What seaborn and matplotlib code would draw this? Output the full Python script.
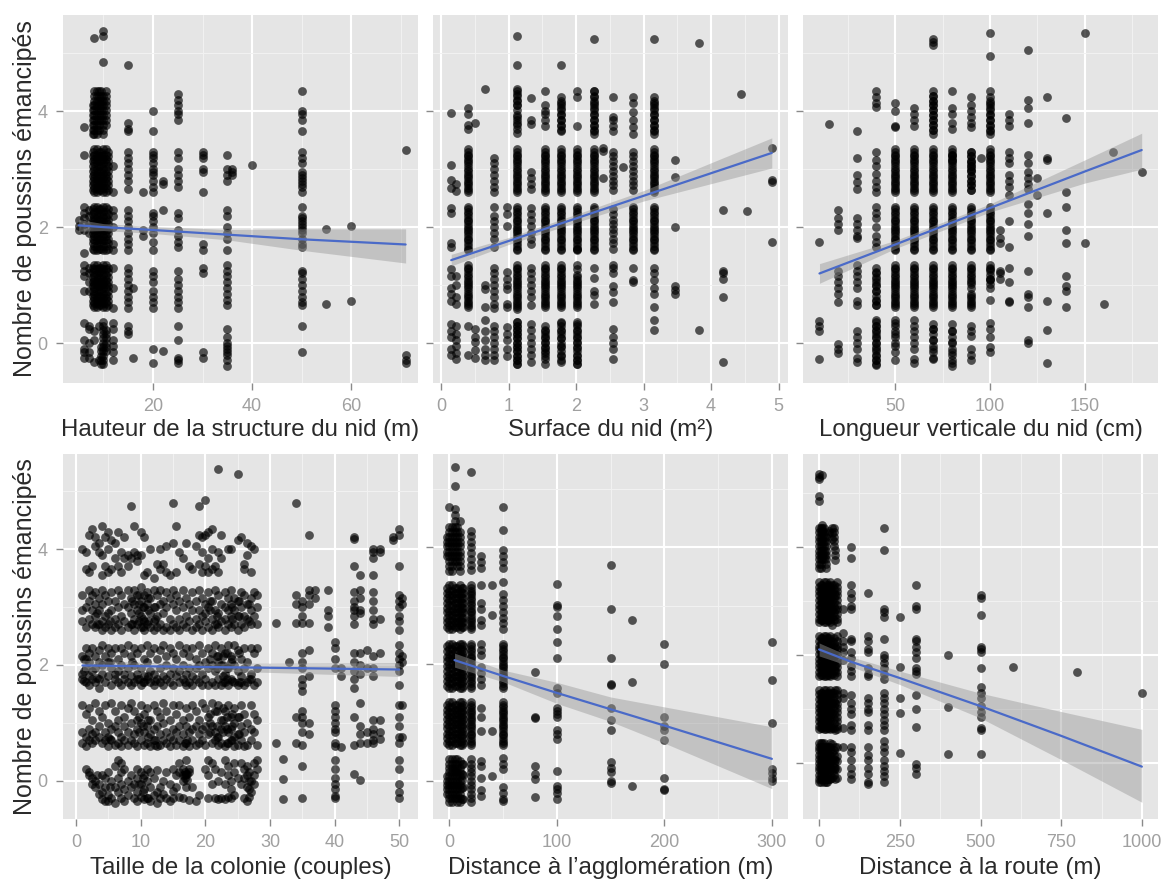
import matplotlib
matplotlib.use("Agg")
import matplotlib.pyplot as plt
import pandas as pd
import seaborn as sns

# valeurs : y = nombre de poussins (avec jitter), une liste par colonne de points
# zones saturees (noir plein), on ne distingue plus les points individuels
dense_a = [0.62, 0.69, 0.78, 0.85, 0.95, 1.02, 1.09, 1.18, 1.27, 1.35,
           1.6, 1.68, 1.77, 1.84, 1.93, 2.01, 2.1, 2.17, 2.26, 2.35,
           2.6, 2.67, 2.76, 2.85, 2.92, 3.01, 3.1, 3.18, 3.25, 3.35]
dense_b = [0.65, 0.73, 0.81, 0.9, 0.98, 1.06, 1.14, 1.22, 1.3,
           1.63, 1.72, 1.8, 1.89, 1.97, 2.05, 2.13, 2.22, 2.31,
           2.64, 2.72, 2.8, 2.89, 2.97, 3.05, 3.14, 3.22, 3.3]
top_a = [3.6, 3.68, 3.77, 3.85, 3.93, 4.02, 4.1, 4.18, 4.27, 4.35]
zero_a = [-0.36, -0.29, -0.22, -0.14, -0.07, 0.0, 0.08, 0.15, 0.23, 0.3, 0.37]

# hauteur de la structure du nid
h_x = [5, 6, 7, 8, 9, 10, 12, 15, 16, 18, 20, 22, 25, 30, 35, 36, 40, 50, 55, 60, 71, 7.8, 8.6, 9.5, 10.6, 11]
h_y = [
    [2.12, 2.02, 1.95],
    [3.73, 3.25, 2.35, 2.25, 2.15, 2.05, 1.95, 1.55, 1.35, 1.25, 1.15, 0.9, 0.35, 0.05, -0.1, -0.15, -0.25],
    [2.3, 2.2, 2.05, 1.9, 1.3, 1.2, 1.05, 0.9, 0.3, 0.25, 0.0, -0.15, -0.25],
    dense_a + top_a + [5.27, 0.2, 0.05, -0.33],
    dense_b + top_a[1:] + [-0.3, 0.3],
    dense_a + top_a[:-1] + zero_a + [5.38, 5.3, 4.85],
    [3.05, 2.6, 2.3, 2.2, 2.0, 1.7, 1.6, 1.3, 0.95, 0.6, 0.35, 0.25, 0.05, -0.05, -0.15, -0.3],
    [4.8, 3.8, 3.7, 3.65, 3.3, 3.2, 3.1, 3.0, 2.9, 2.8, 2.65, 2.3, 2.2, 2.1, 2.0, 1.9, 1.8, 1.7, 1.6,
     1.3, 1.2, 1.1, 1.0, 0.9, 0.8, 0.7, 0.6, 0.3, 0.2, 0.15],
    [0.95, -0.25],
    [2.6, 1.95, 1.85],
    [4.0, 3.65, 3.3, 3.25, 3.2, 3.1, 3.0, 2.95, 2.9, 2.8, 2.7, 2.6, 2.25, 2.2, 2.1, 2.0, 1.9, 1.75, 1.6,
     1.25, 1.15, 1.05, 0.9, 0.8, 0.7, 0.6, -0.1, -0.35],
    [2.8, 2.75, 2.3, -0.13],
    [4.3, 4.2, 4.1, 4.0, 3.95, 3.85, 3.3, 3.2, 3.0, 2.9, 2.8, 2.7, 2.25, 2.15, 1.95, 1.85, 1.75, 1.65,
     1.25, 1.1, 1.0, 0.9, 0.8, 0.7, 0.6, 0.3, 0.05, -0.25, -0.3, -0.35],
    [3.3, 3.25, 3.2, 3.0, 2.95, 2.6, 1.7, 1.6, 1.3, 1.2, -0.15, -0.25],
    [3.25, 3.0, 2.9, 2.8, 2.3, 2.2, 2.0, 1.9, 1.8, 1.6, 1.35, 1.25, 1.15, 1.05, 0.95, 0.85, 0.75, 0.65,
     0.25, 0.1, 0.0, -0.05, -0.1, -0.15, -0.2, -0.3, -0.4],
    [3.0, 2.95, 2.9],
    [3.07],
    [4.35, 4.0, 3.95, 3.85, 3.65, 3.3, 3.2, 3.1, 2.95, 2.9, 2.85, 2.8, 2.75, 2.7, 2.6, 2.35, 2.2, 2.15,
     2.1, 2.05, 2.0, 1.95, 1.9, 1.8, 1.7, 1.65, 1.25, 1.2, 1.1, 1.0, 0.9, 0.8, 0.7, 0.65, 0.3, -0.15],
    [1.97, 0.68],
    [2.02, 0.72],
    [3.33, -0.2, -0.3, -0.35],
    dense_b + top_a[:7],
    dense_a + top_a,
    dense_b + top_a[3:] + zero_a[:5],
    dense_a + top_a[2:] + zero_a[3:9],
    dense_b,
]
h_fit_x = [5, 10, 20, 35, 50, 71]
h_fit = [2.03, 2.0, 1.95, 1.87, 1.79, 1.7]
h_lo = [1.93, 1.94, 1.89, 1.78, 1.6, 1.38]
h_hi = [2.13, 2.06, 2.01, 1.96, 1.97, 1.97]

# surface du nid
s_x = [0.15, 0.22, 0.4, 0.5, 0.65, 0.79, 0.97, 1.13, 1.33, 1.54, 1.78, 2.01, 2.27, 2.4, 2.55, 2.7, 2.84,
       3.15, 3.47, 3.82, 4.17, 4.45, 4.53, 4.9, 1.13, 1.54, 1.78, 2.01, 0.4, 3.15, 2.84, 2.27]
s_y = [
    [3.97, 3.08, 2.82, 2.68, 2.33, 2.25, 1.73, 1.66, 1.27, 1.15, 0.95, 0.85, 0.72, 0.32, 0.2, 0.1, -0.1, -0.2],
    [2.75, 2.62, 1.15, 1.0, 0.8, 0.68, 0.3, 0.15, 0.05, -0.05, -0.17, -0.28],
    [4.05, 3.95, 3.77, 3.7] + dense_a[:10] + dense_a[10:20] + dense_a[20:] + [0.3, -0.2],
    [3.8, 0.25, 0.1, 0.02, -0.12, -0.25],
    [4.38, 1.0, 0.93, 0.62, 0.4, 0.2, 0.05, -0.1, -0.2, -0.3],
    [3.2, 3.1, 3.0, 2.9, 2.8, 2.7, 2.6, 2.35, 2.2, 2.1, 2.0, 1.9, 1.8, 1.65, 1.3, 1.2, 1.1, 1.0, 0.9, 0.8,
     0.68, 0.6, 0.3, 0.2, 0.1, 0.0, -0.1, -0.2, -0.3],
    [2.35, 2.22, 2.02, 1.22, 1.1, 1.0, 0.93, 0.68, 0.62, 0.28, 0.15, 0.05, -0.1, -0.22],
    [5.3, 4.8, 4.38, 4.3, 4.2, 4.1, 3.9, 3.8, 3.7, 3.62] + dense_a + [0.58] + zero_a,
    [4.22, 3.85, 3.78, 2.95, 2.85, 2.75, 2.65, 2.33, 2.22, 2.12, 2.02, 1.9, 1.8, 1.7, 1.3, 1.2, 1.1, 1.0,
     0.9, 0.8, 0.66, 0.33, 0.22, 0.1, 0.0, -0.1, -0.2, -0.32],
    [4.35, 4.1, 4.0, 3.95, 3.85, 3.75] + dense_b + [0.3, 0.2, 0.1, 0.02, -0.08, -0.18, -0.28, -0.36],
    [4.8, 4.25, 4.15, 4.05, 3.95, 3.85, 3.75, 3.65] + dense_a + [0.35, 0.2, 0.08, -0.05, -0.2, -0.32],
    [4.35, 4.25, 3.75] + dense_b[:7] + dense_b[9:] + [1.63, 0.33, 0.2, 0.1, 0.02, -0.08, -0.2, -0.3, -0.36],
    [5.25, 4.35, 4.25, 4.15, 4.05, 3.95, 3.85, 3.75, 3.65] + dense_a[10:] + [1.3, 1.12, 0.9, 0.82, 0.68],
    [3.37, 3.32, 2.85],
    [4.25, 3.9, 3.85, 3.75, 3.65] + dense_b[9:] + [1.35, 1.3, 1.2, 0.98, 0.88, 0.7, 0.25, 0.1, 0.0, -0.1, -0.27],
    [3.03],
    [4.25, 4.15, 3.98, 3.85, 3.72, 3.6] + dense_b[9:] + [1.3, 1.08, 1.05],
    [5.25, 4.25, 4.15, 4.05, 3.95, 3.85, 3.75, 3.65] + dense_a[10:] + [1.3, 1.2, 1.08, 0.95, 0.85, 0.62, 0.4, 0.22],
    [3.15, 2.87, 2.0, 0.98, 0.92, 0.85],
    [5.18, 0.22],
    [2.3, 1.25, 1.2, 1.1, 0.8, -0.33],
    [4.3],
    [2.28],
    [3.37, 2.82, 2.78, 1.75],
    dense_b + top_a[2:] + zero_a,
    dense_a + zero_a[2:9],
    dense_b + top_a[1:8] + zero_a[1:],
    dense_a + zero_a,
    dense_b,
    dense_b[9:] + top_a[:8],
    dense_a[10:20],
    dense_b[9:] + top_a,
]
s_fit_x = [0.15, 1, 2, 3, 4, 4.9]
s_fit = [1.43, 1.76, 2.15, 2.54, 2.93, 3.28]
s_lo = [1.33, 1.7, 2.08, 2.45, 2.75, 3.02]
s_hi = [1.53, 1.82, 2.22, 2.63, 3.11, 3.54]

# longueur verticale du nid
l_x = [10, 15, 20, 30, 40, 50, 60, 70, 80, 90, 95, 100, 105, 110, 120, 125, 130, 140, 150, 160, 165, 180,
       50, 60, 70, 80, 90, 100, 40]
l_y = [
    [1.75, 0.38, 0.3, 0.2, -0.27],
    [3.78],
    [2.3, 2.15, 2.05, 1.95, 1.25, 1.15, 1.05, 0.95, 0.85, 0.7, -0.02, -0.1, -0.17],
    [3.65, 3.2, 2.9, 2.78, 2.65, 2.15, 2.05, 1.95, 1.85, 1.82, 1.35, 1.25, 1.15, 1.05, 0.95, 0.72, 0.66,
     0.2, 0.1, 0.0, -0.1, -0.25, -0.32],
    [4.35, 4.25, 4.15, 4.07, 3.3, 3.15, 3.05, 2.92, 2.8, 2.7, 2.6, 2.35, 2.25, 2.15, 2.0, 1.85, 1.75, 1.65,
     1.3, 1.2, 1.1, 1.0, 0.9, 0.75, 0.65, 0.4, 0.3, 0.2, 0.1, 0.0, -0.1, -0.2, -0.3, -0.38],
    [4.15, 4.0, 3.75, 3.72] + dense_a + [0.4, 0.3, 0.2, 0.1, 0.0, -0.15, -0.3],
    [4.05, 3.95, 3.85, 3.75] + dense_b + [0.4, 0.3, 0.2, 0.1, 0.0, -0.1, -0.27, -0.35],
    [5.25, 5.2, 5.15] + top_a + dense_a + [0.33, 0.25, 0.15, 0.05, -0.05, -0.15, -0.27],
    [4.35, 4.05, 3.95, 3.8, 3.7, 3.25, 3.15] + dense_b + [0.32, 0.2, 0.1, 0.0, -0.1, -0.2, -0.3, -0.4],
    [4.25, 4.1, 4.0, 3.9, 3.8, 3.72, 3.1, 3.0] + dense_b[:3] + dense_b[5:] + [0.3, 0.2, 0.12, -0.1, -0.2, -0.3],
    [3.2],
    [5.35, 4.95, 4.35, 4.25, 4.15, 4.05, 3.95, 3.85, 3.75, 3.65] + dense_a[5:] + [1.3, 1.1, 0.75, 0.35, 0.25, 0.1, -0.07, -0.15],
    [1.95, 1.82, 1.72, 1.25, 1.2, 1.1],
    [3.95, 3.85, 3.75, 3.3, 3.2, 3.1, 2.9, 2.8, 2.7, 2.55, 2.1, 1.65, 1.3, 1.05, 0.72, 0.7],
    [5.05, 4.2, 4.05, 3.8, 3.25, 3.1, 2.95, 2.85, 2.75, 2.65, 2.4, 2.25, 2.05, 1.85, 1.25, 0.85, 0.8, 0.62, 0.05, 0.0],
    [2.85, 2.55],
    [4.25, 3.2, 3.15, 2.25, 0.72, 0.22, -0.35],
    [3.88, 2.6, 2.35, 1.95, 1.72, 1.15, 0.98, 0.9, 0.62],
    [5.35, 1.72],
    [0.68],
    [3.3],
    [2.95],
    dense_b + [0.35, 0.15, -0.05],
    dense_a,
    dense_b + top_a[1:9] + [0.25, 0.05, -0.1, -0.25],
    dense_a + [0.2, 0.02, -0.15, -0.35],
    dense_a[:20] + dense_b[18:],
    dense_b[9:] + top_a[:8] + [0.95, 1.1, 1.25],
    dense_b[:8] + zero_a,
]
l_fit_x = [10, 50, 100, 150, 180]
l_fit = [1.2, 1.7, 2.33, 2.96, 3.33]
l_lo = [1.03, 1.63, 2.26, 2.76, 3.0]
l_hi = [1.37, 1.77, 2.4, 3.16, 3.62]

# taille de la colonie
c_x = [1, 1.5, 2, 2.5, 3, 3.5, 4, 4.5, 5, 5.5, 6, 6.5, 7, 7.5, 8, 8.5, 9, 9.5, 10, 10.5, 11, 11.5, 12, 12.5,
       13, 13.5, 14, 14.5, 15, 15.5, 16, 16.5, 17, 17.5, 18, 18.5, 19, 19.5, 20, 20.5, 21, 21.5, 22, 22.5,
       23, 23.5, 24, 24.5, 25, 25.5, 26, 26.5, 27, 27.5, 28]
c_y = [
    [4.0, 3.2, 2.95, 2.75, 2.15, 1.85, 1.75, 1.3, 0.85, 0.65],
    [3.95, 3.65, 3.0, 2.65, 2.3, 2.1, 1.95, 1.7, 1.15, 0.75, 0.6, 0.2],
    [4.25, 3.6, 3.3, 3.1, 2.8, 2.2, 2.05, 1.8, 1.65, 1.25, 0.9, 0.7, 0.15, 0.1],
    [4.35, 3.7, 3.2, 2.95, 2.7, 2.3, 1.9, 1.75, 1.05, 0.8, 0.65, 0.05, -0.05],
    [4.2, 4.05, 3.25, 3.05, 2.85, 2.65, 2.15, 1.95, 1.7, 1.35, 0.85, 0.7, 0.0, -0.1],
    [4.1, 3.95, 3.15, 2.95, 2.7, 2.25, 2.05, 1.75, 1.6, 1.2, 0.95, 0.75, -0.05, -0.22],
    [4.4, 3.9, 3.55, 3.3, 3.05, 2.75, 2.6, 2.35, 2.0, 1.85, 1.1, 0.65, 0.1, -0.2, -0.32],
    [4.2, 3.7, 3.2, 2.85, 2.65, 2.15, 1.7, 1.3, 0.85, 0.7, 0.05, -0.1, -0.35],
    [4.3, 4.0, 3.6, 3.1, 2.9, 2.7, 2.3, 2.05, 1.8, 1.0, 0.75, 0.6, 0.15, -0.25, -0.35],
    [4.15, 3.65, 3.25, 2.95, 2.6, 2.2, 1.95, 1.65, 1.35, 0.9, 0.7, 0.0, -0.3],
    [4.1, 3.85, 3.1, 2.8, 2.65, 2.3, 1.85, 1.75, 1.2, 0.95, 0.62, 0.25, -0.1, -0.38],
    [4.3, 3.7, 3.3, 3.0, 2.7, 2.1, 1.9, 1.7, 1.05, 0.85, 0.65, 0.35, 0.05, -0.2],
    [3.95, 3.6, 3.2, 2.85, 2.6, 2.3, 2.0, 1.65, 1.3, 0.75, 0.6, 0.3, 0.15, -0.05, -0.3],
    [4.2, 3.85, 3.05, 2.75, 2.2, 1.85, 1.75, 1.1, 0.95, 0.7, 0.2, -0.15, -0.35],
    [3.9, 3.7, 3.3, 3.0, 2.65, 2.35, 1.95, 1.7, 1.25, 0.85, 0.62, 0.0, -0.25],
    [4.75, 3.85, 3.15, 2.9, 2.7, 2.15, 1.8, 1.65, 1.35, 1.0, 0.7, 0.1, -0.1],
    [4.4, 3.95, 3.3, 3.05, 2.8, 2.6, 2.3, 2.0, 1.7, 1.2, 0.8, 0.65, -0.05, -0.3],
    [3.9, 3.8, 3.2, 2.95, 2.7, 2.2, 1.85, 1.75, 1.05, 0.9, 0.6, 0.2, 0.05, -0.2, -0.35],
    [4.3, 3.9, 3.35, 3.1, 2.85, 2.65, 2.3, 1.95, 1.65, 1.3, 1.0, 0.7, 0.15, -0.05, -0.28],
    [4.2, 3.55, 3.2, 3.0, 2.75, 2.6, 2.1, 1.8, 1.7, 1.15, 0.85, 0.62, 0.1, -0.15, -0.32],
    [3.6, 3.25, 3.05, 2.7, 2.35, 2.05, 1.75, 1.25, 0.95, 0.65, 0.2, 0.0, -0.3],
    [4.0, 3.15, 2.9, 2.65, 2.2, 1.9, 1.7, 1.05, 0.8, 0.6, 0.15, -0.1, -0.35],
    [3.5, 3.3, 3.0, 2.75, 2.6, 2.3, 1.85, 1.65, 1.3, 0.9, 0.7, 0.05, -0.25],
    [3.75, 3.2, 2.85, 2.65, 2.1, 1.75, 1.2, 0.95, 0.6, 0.18, -0.2, -0.38],
    [4.0, 3.65, 3.3, 3.05, 2.7, 2.25, 1.95, 1.7, 1.1, 0.8, 0.62, -0.1, -0.3],
    [3.75, 3.1, 2.9, 2.6, 2.35, 1.8, 1.65, 1.35, 1.0, 0.7, 0.0, -0.22],
    [4.05, 3.6, 3.25, 3.0, 2.65, 2.15, 2.0, 1.75, 1.2, 0.85, 0.65, 0.15, -0.3],
    [3.55, 3.15, 2.8, 2.6, 2.3, 1.85, 1.7, 1.05, 0.75, 0.6, -0.05, -0.35],
    [4.8, 4.1, 3.3, 3.05, 2.7, 2.2, 1.95, 1.65, 1.3, 0.9, 0.7, 0.2, -0.18, -0.3],
    [4.4, 3.6, 3.2, 2.95, 2.65, 2.1, 1.8, 1.15, 0.85, 0.62, 0.1, -0.1],
    [3.95, 3.1, 2.8, 2.6, 2.35, 1.9, 1.7, 1.3, 0.95, 0.7, 0.3, 0.15, -0.28],
    [3.85, 3.3, 3.0, 2.7, 2.2, 2.0, 1.75, 1.05, 0.8, 0.6, 0.2, 0.1, 0.0, -0.3],
    [4.1, 3.15, 2.85, 2.65, 2.3, 1.85, 1.65, 1.25, 0.95, 0.65, 0.35, 0.12, -0.1],
    [3.7, 3.05, 2.75, 2.15, 1.95, 1.7, 1.1, 0.85, 0.6, 0.2, 0.15, -0.33],
    [3.65, 3.25, 2.95, 2.6, 2.3, 1.8, 1.65, 1.3, 0.9, 0.7, -0.1],
    [4.05, 3.1, 2.8, 2.65, 2.1, 1.95, 1.75, 1.2, 0.95, 0.62, -0.35],
    [4.75, 4.25, 3.75, 3.3, 2.95, 2.7, 2.35, 2.0, 1.7, 1.05, 0.8, 0.65, -0.25],
    [4.2, 3.95, 3.6, 3.15, 2.85, 2.6, 2.2, 1.85, 1.65, 1.35, 0.9, 0.7],
    [4.85, 4.25, 3.7, 3.05, 2.9, 2.75, 2.05, 1.75, 1.25, 0.95, 0.62, 0.2],
    [4.3, 3.85, 3.6, 3.25, 3.0, 2.65, 2.3, 1.95, 1.65, 1.1, 0.8, 0.35, 0.1, -0.3],
    [4.35, 4.0, 3.65, 3.1, 2.8, 2.6, 2.2, 2.0, 1.7, 1.35, 0.95, 0.65, 0.3, -0.05],
    [3.7, 3.3, 2.95, 2.7, 2.35, 1.9, 1.65, 1.2, 0.85, 0.7, 0.2, -0.3],
    [5.38, 3.95, 3.6, 3.2, 2.9, 2.65, 2.15, 2.05, 1.75, 1.3, 0.75, 0.62, 0.0, -0.32],
    [4.25, 3.85, 3.05, 2.75, 2.3, 2.0, 1.65, 1.05, 0.9, 0.65, 0.15, -0.3],
    [3.25, 3.0, 2.8, 2.6, 2.2, 1.85, 1.7, 1.2, 0.95, 0.6, 0.35, -0.05, -0.32],
    [4.0, 3.15, 2.95, 2.7, 2.35, 1.95, 1.65, 1.3, 0.85, 0.65, 0.25, 0.1, -0.28],
    [4.0, 3.3, 3.05, 2.85, 2.65, 2.15, 2.05, 1.75, 1.1, 0.9, 0.7, 0.0, -0.15, -0.3],
    [3.15, 2.95, 2.7, 2.35, 2.0, 1.7, 1.25, 1.0, 0.75, 0.6, 0.3, 0.15, -0.25],
    [5.3, 4.15, 3.1, 2.85, 2.6, 2.25, 1.9, 1.65, 1.1, 0.8, 0.62, 0.05],
    [4.2, 3.25, 3.0, 2.7, 2.1, 1.8, 1.7, 1.3, 0.95, 0.7, 0.3, -0.05],
    [3.75, 3.65, 3.2, 2.85, 2.65, 2.3, 1.95, 1.65, 1.15, 0.85, 0.6, 0.2, 0.05, -0.3],
    [4.1, 3.9, 3.05, 2.8, 2.05, 1.7, 1.0, 0.62, 0.25, 0.1, -0.1, -0.35],
    [4.05, 3.6, 3.15, 2.95, 2.7, 2.3, 1.85, 1.75, 1.3, 0.9, 0.7, 0.0, -0.2],
    [4.0, 3.25, 2.85, 2.2, 1.65, 1.15, 0.85, 0.3, 0.1, -0.05],
    [3.2, 3.0, 2.7, 2.3, 1.95, 1.7, 1.05, 0.62, 0.35, 0.2],
]
c_x2 = [31, 32, 33, 34, 35, 36, 37, 39, 40, 41, 43, 44, 45, 46, 47, 49, 50, 50.5]
c_y2 = [
    [2.72, 0.65],
    [0.38, 0.03, -0.32],
    [2.05],
    [4.8, 3.2, 3.05, 2.72, 1.1, 0.65],
    [3.1, 3.0, 2.85, 2.72, 2.2, 2.05, 1.95, 1.75, 1.65, 1.55, 1.2, 1.1, 1.0, 0.85, 0.62, 0.25, -0.3],
    [4.25, 3.3, 3.2, 3.05, 2.72, 2.25, 1.8, 1.0, 0.8],
    [3.3, 3.15],
    [3.3, 2.95, 2.85, 2.65],
    [2.4, 2.3, 2.1, 1.95, 1.3, 1.2, 1.1, 1.0, 0.9, 0.85, 0.65, 0.6, 0.35, 0.2, 0.05, -0.05, -0.15, -0.27, -0.3],
    [1.95, 1.8, 0.58],
    [4.2, 4.17, 3.7, 3.25, 3.1, 3.0, 2.95, 2.85, 2.7, 2.2, 2.05, 1.9, 1.75, 1.6, 1.1, 0.62, 0.12],
    [3.55, 3.3, 3.15, 2.95, 2.9, 2.2, 2.0, 1.85, 1.35, 0.95, 0.8, 0.65, 0.02],
    [2.25, 1.95, 0.85, 0.65],
    [4.0, 3.95, 3.85, 3.55, 3.25, 3.1, 2.95, 2.8, 2.7, 2.15, 1.95, 1.8, 1.05, 0.9, 0.8, 0.7, 0.65],
    [4.0, 3.95, 2.8, 2.2, 1.05, 0.85, 0.72],
    [4.15, 4.2],
    [4.35, 4.25, 3.7, 3.2, 3.1, 3.0, 2.85, 2.75, 2.6, 2.35, 2.2, 2.1, 2.0, 1.9, 1.65, 1.3, 1.1, 0.95, 0.75, 0.65, 0.35, 0.2, -0.05, -0.2, -0.3],
    [3.15, 3.05, 2.15, 2.05, 1.3, 0.75],
]
# amas plus sombres
c_x3 = [1.2, 3.2, 5.2, 8.7, 9.8, 10.3, 11.2, 12.3, 16.8, 17.2, 20.8, 21.8, 22.7, 23.3, 24.2, 25.2, 26.7]
c_y3 = [
    [2.1, 1.9, 1.72],
    [2.9, 2.7, 1.78, 0.1],
    [2.75, 2.05, 0.72, -0.1],
    [3.1, 2.7, 2.05],
    [3.2, 3.05, 2.9, 2.75, 1.75, 1.1, 0.85, -0.05],
    [3.0, 2.8, 2.65, 1.7, 0.95, 0.05, -0.2],
    [3.15, 2.95, 2.75, 1.8, 1.05, 0.75, -0.3],
    [3.0, 2.8, 1.72, 0.7, 0.62],
    [0.15, 0.1, 0.05, 1.7, 0.65],
    [0.12, 0.02, 0.7],
    [3.1, 2.95, 2.1, 1.15, 1.0, 0.85],
    [2.85, 2.7, 2.15, 1.95, 1.2, 0.95, 0.75],
    [2.15, 2.0, 1.8, 1.7, 1.25, 1.05, 0.85],
    [2.2, 1.95, 1.75, 1.1, 0.9, 0.65],
    [3.0, 2.8, 2.1, 1.72, 1.15, 0.95, 0.7],
    [3.1, 2.85, 2.2, 1.7, 1.1, 0.8],
    [3.05, 2.75, 1.75, 0.15, 0.0, -0.15, -0.28],
]
c_fit_x = [1, 15, 30, 50]
c_fit = [1.99, 1.97, 1.95, 1.92]
c_lo = [1.9, 1.91, 1.87, 1.8]
c_hi = [2.08, 2.03, 2.03, 2.04]

# distance a l'agglomeration
a_x = [0, 5, 10, 13, 20, 30, 40, 50, -2, 2.5, 7.5, 12, 20, 50]
a_x = a_x + [80, 100, 150, 170, 200, 300]
a_y = [
    dense_a + top_a + zero_a + [4.7],
    dense_b + top_a[2:] + zero_a[1:] + [5.38, 5.05, 4.65, 4.55, 4.45],
    dense_a + top_a[:-1] + zero_a[:-2] + [0.35, 4.45],
    dense_b + [0.3, 0.1, -0.1, -0.3],
    [5.3, 4.28, 4.2, 4.1, 4.0, 3.9, 3.8, 3.7, 3.62] + dense_a + zero_a,
    [3.85, 3.75, 3.65, 3.35, 3.05, 2.95, 2.75, 2.68, 2.35, 2.25, 2.15, 1.95, 1.85, 1.75, 1.65,
     1.25, 1.1, 0.85, 0.35, 0.25, 0.05, -0.15, -0.25],
    [3.35, 2.85, 0.85, 0.08],
    [4.7, 4.3, 3.95, 3.85, 3.75, 3.65, 3.4, 3.2, 3.1, 3.0, 2.9, 2.8, 2.7, 2.6] + dense_a[10:20] + dense_a[:10] +
    [0.4, 0.3, 0.2, -0.1, -0.2, -0.3, -0.35],
    dense_b + top_a[3:8] + zero_a[2:7],
    dense_a + top_a + zero_a,
    dense_b + top_a[1:] + zero_a[::-1],
    dense_a[:20] + dense_b[18:] + [0.3, 0.12, 0.02, -0.12, -0.3],
    dense_b,
    dense_b[:18],
    [1.87, 1.1, 1.08, 0.25, 0.12, 0.03, -0.28],
    [3.38, 3.02, 2.98, 2.82, 2.6, 2.38, 2.1, 1.6, 1.5, 1.25, 1.2, 1.15, 1.1, 0.87, 0.8, 0.72, 0.18, -0.08, -0.13, -0.2, -0.3],
    [3.7, 2.95, 2.1, 1.67, 1.65, 1.25, 1.05, 0.88, 0.33, 0.22, 0.15, 0.0, -0.04],
    [2.75, 1.7, -0.08],
    [2.35, 2.0, 1.1, 0.95, 0.88, 0.7, 0.05, -0.13, -0.15],
    [2.38, 1.73, 1.0, 0.2, 0.13, 0.05, 0.0],
]
a_fit_x = [5, 50, 100, 150, 200, 300]
a_fit = [2.07, 1.8, 1.51, 1.23, 0.95, 0.38]
a_lo = [1.95, 1.7, 1.33, 1.02, 0.65, -0.13]
a_hi = [2.19, 1.9, 1.69, 1.44, 1.27, 0.93]

# distance a la route
r_x = [0, 10, 20, 30, 40, 50, 75, 100, 150, 200, 250, 300, 400, 500, 600, 800, 1000, 5, 15, 25, 35, 45, 55]
r_y = [
    [5.35, 5.3, 5.25, 4.95, 4.85] + top_a + dense_a + zero_a,
    top_a[2:] + dense_b + zero_a[1:] + [4.4, 4.3, 5.33],
    top_a[:8] + dense_a + zero_a[:-1],
    dense_b + [0.3, 0.15, 0.0, -0.1, -0.3, 4.3, 4.25],
    [4.35, 4.25, 4.15, 3.3, 3.15, 3.0, 2.85, 2.7, 2.55, 2.25, 2.05, 1.85, 1.65, 1.3, 1.1, 0.9, 0.65,
     0.35, 0.2, 0.05, -0.15, -0.28],
    [3.95, 3.85, 3.75, 3.1, 2.85, 2.15, 2.0, 1.8, 1.7, 1.35, 1.1, 0.6, 0.3, 0.05, -0.1, -0.3],
    [2.85, 2.4, 2.25, 2.15, 2.05, 1.9, 1.3, 1.2, 0.65, 0.3],
    [4.0, 3.8, 3.3, 3.15, 3.05, 2.9, 2.85, 2.3, 2.25, 2.05, 1.95, 1.8, 1.7, 1.6, 1.25, 1.1, 1.0, 0.9, 0.7, 0.6,
     0.3, 0.2, 0.05, -0.1, -0.2, -0.3],
    [3.15, 2.35, 2.25, 2.1, 2.05, 1.75, 1.65, 1.6, 1.2, 1.1, 1.0, 0.95, 0.7, 0.6, 0.3, 0.15, 0.05, -0.1, -0.2, -0.35, -0.4],
    [4.35, 3.95, 2.85, 2.8, 2.7, 2.3, 2.0, 1.95, 1.85, 1.75, 1.65, 1.55, 1.3, 1.2, 1.1, 1.0, 0.9, 0.8, 0.7, 0.6,
     0.4, 0.3, 0.2, 0.05, -0.05, -0.15, -0.25, -0.35],
    [2.7, 1.78, 1.2, 0.92, 0.18],
    [3.3, 2.9, 2.85, 2.3, 2.25, 2.15, 2.05, 1.95, 1.75, 1.7, 1.65, 1.25, 1.0, 0.67, -0.02, -0.1, -0.2],
    [2.0, 1.03, 0.17],
    [3.1, 3.05, 2.73, 2.15, 2.1, 2.05, 1.75, 1.4, 1.3, 1.2, 1.05, 0.95, 0.85, 0.65, 0.6, 0.17],
    [1.78],
    [1.68],
    [1.3],
    dense_b + top_a + zero_a,
    dense_a + top_a[2:] + zero_a[::-1],
    dense_b + zero_a[:-1],
    dense_a + zero_a[1:],
    dense_b + top_a[5:] + zero_a[2:9],
    dense_a + [0.3, 0.12, 0.03, -0.12, -0.28],
]
r_fit_x = [0, 100, 250, 500, 750, 1000]
r_fit = [2.1, 1.87, 1.57, 1.05, 0.5, -0.07]
r_lo = [1.98, 1.78, 1.45, 0.83, 0.06, -0.73]
r_hi = [2.22, 1.96, 1.7, 1.29, 0.95, 0.62]

labels = ["Hauteur de la structure du nid (m)", "Surface du nid (m²)", "Longueur verticale du nid (cm)",
          "Taille de la colonie (couples)", "Distance à l’agglomération (m)", "Distance à la route (m)"]
all_x = [h_x, s_x, l_x, c_x + c_x2 + c_x3, a_x, r_x]
all_y = [h_y, s_y, l_y, c_y + c_y2 + c_y3, a_y, r_y]
fits = [(h_fit_x, h_fit, h_lo, h_hi), (s_fit_x, s_fit, s_lo, s_hi), (l_fit_x, l_fit, l_lo, l_hi),
        (c_fit_x, c_fit, c_lo, c_hi), (a_fit_x, a_fit, a_lo, a_hi), (r_fit_x, r_fit, r_lo, r_hi)]
x_ticks = [[20, 40, 60], [0, 1, 2, 3, 4, 5], [50, 100, 150], [0, 10, 20, 30, 40, 50],
           [0, 100, 200, 300], [0, 250, 500, 750, 1000]]
x_minor = [[10, 30, 50, 70], [0.5, 1.5, 2.5, 3.5, 4.5], [25, 75, 125, 175], [5, 15, 25, 35, 45],
           [50, 150, 250], [125, 375, 625, 875]]
x_lims = [(1.83, 73.5), (-0.12, 5.14), (1.3, 188.6), (-2, 52.9), (-15, 315), (-50, 1050)]
y_lims = [(-0.69, 5.66), (-0.69, 5.66), (-0.69, 5.66), (-0.66, 5.64), (-0.65, 5.6), (-1.04, 5.72)]

W, H = 1163, 881
lefts = [63, 433, 803]
width = 355
tops = [(15, 383), (454, 819)]
label_centers = [430, 868]

sns.set_theme(style="darkgrid", rc={"axes.facecolor": "#E5E5E5", "grid.color": "white"})
plt.rcParams["font.family"] = ["Liberation Sans", "DejaVu Sans"]

fig = plt.figure(figsize=(W / 100, H / 100), dpi=100, facecolor="white")
for i in range(6):
    top, bottom = tops[i // 3]
    ax = fig.add_axes([lefts[i % 3] / W, 1 - bottom / H, width / W, (bottom - top) / H])
    rows = [(x, v) for x, col in zip(all_x[i], all_y[i]) for v in col]
    df = pd.DataFrame(rows, columns=["x", "y"])
    sns.scatterplot(data=df, x="x", y="y", color="black", alpha=0.65, s=40, linewidth=0, ax=ax, zorder=3)

    fx, fy, lo, hi = fits[i]
    ax.fill_between(fx, lo, hi, color="#999999", alpha=0.45, linewidth=0, zorder=4)
    sns.lineplot(x=fx, y=fy, color="#4A6AC8", linewidth=1.6, ax=ax, zorder=5)

    ax.set_xlim(x_lims[i])
    ax.set_ylim(y_lims[i])
    ax.set_xticks(x_ticks[i])
    ax.set_xticks(x_minor[i], minor=True)
    ax.set_yticks([0, 2, 4])
    ax.set_yticks([1, 3, 5], minor=True)
    ax.grid(True, which="major", color="white", linewidth=1.5, zorder=1)
    ax.grid(True, which="minor", color="#F2F2F2", linewidth=0.7, zorder=1)
    ax.set_axisbelow(True)
    for sp in ax.spines.values():
        sp.set_visible(False)
    ax.tick_params(which="major", length=5, width=1, color="#8A8A8A", labelcolor="#A0A0A0",
                   labelsize=13, pad=6, bottom=True, left=True)
    ax.tick_params(which="minor", length=0)
    if i % 3 != 0:
        ax.tick_params(axis="y", labelleft=False)
    ax.set_xlabel(labels[i], fontsize=17.3, color="#2A2A2A", va="center")
    ax.xaxis.set_label_coords(0.5, -(label_centers[i // 3] - bottom) / (bottom - top))
    ax.set_ylabel("Nombre de poussins émancipés" if i % 3 == 0 else "", fontsize=18, color="#2A2A2A", va="center")
    ax.yaxis.set_label_coords(-38 / width, 0.5)

fig.savefig("out.png", dpi=100)
